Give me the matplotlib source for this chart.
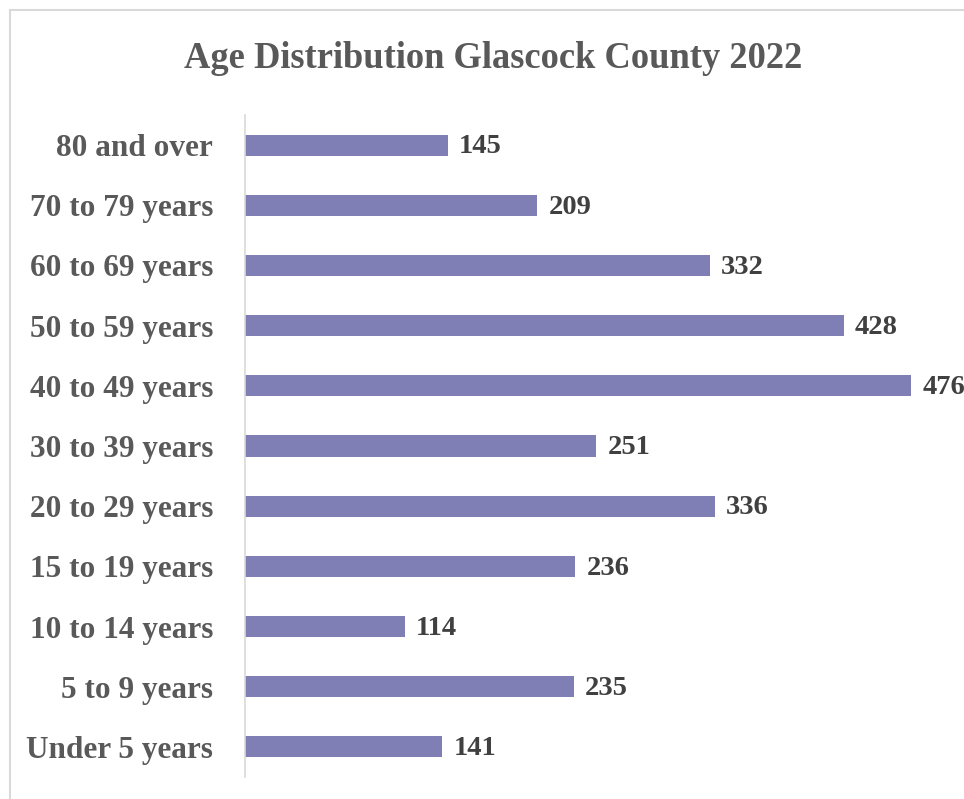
import matplotlib
matplotlib.use("Agg")
import matplotlib.pyplot as plt
from matplotlib.patches import Rectangle

categories = ["Under 5 years", "5 to 9 years", "10 to 14 years", "15 to 19 years",
              "20 to 29 years", "30 to 39 years", "40 to 49 years", "50 to 59 years",
              "60 to 69 years", "70 to 79 years", "80 and over"]
values = [141, 235, 114, 236, 336, 251, 476, 428, 332, 209, 145]
title = "Age Distribution Glascock County 2022"

W, H = 964, 799
fig = plt.figure(figsize=(W/100, H/100), dpi=100)
plt.rcParams['font.family'] = ['Liberation Serif', 'DejaVu Serif']

# chart border
fig.patches.append(Rectangle((10/W, -0.1), 1.2, (H-10)/H + 0.1, transform=fig.transFigure,
                             fill=False, edgecolor='#d9d9d9', linewidth=1.5))

ax_left, ax_right = 245, 964
ax_top, ax_bot = 115, 777
ax = fig.add_axes([ax_left/W, 1-ax_bot/H, (ax_right-ax_left)/W, (ax_bot-ax_top)/H])
scale = (911-245)/476
ax.set_xlim(0, (ax_right-ax_left)/scale)
ax.set_ylim(-0.5, len(categories)-0.5)

ax.barh(range(len(categories)), values, height=0.35, color='#7f7fb5')
for i, v in enumerate(values):
    ax.text(v + 8, i - 0.03, f"{v}", va='center', ha='left', fontsize=20.5, fontweight='bold',
            color='#404040', clip_on=False)

ax.set_yticks(range(len(categories)))
ax.set_yticklabels(categories, fontsize=22.5, fontweight='bold', color='#595959')
ax.tick_params(axis='y', length=0, pad=23)
ax.set_xticks([])
for s in ['top', 'right', 'bottom']:
    ax.spines[s].set_visible(False)
ax.spines['left'].set_color('#d9d9d9')
ax.spines['left'].set_linewidth(1.2)

fig.text(493/W, 1-58/H, title, ha='center', va='center', fontsize=26.3, fontweight='bold',
         color='#595959')

fig.savefig("out.png", dpi=100)
